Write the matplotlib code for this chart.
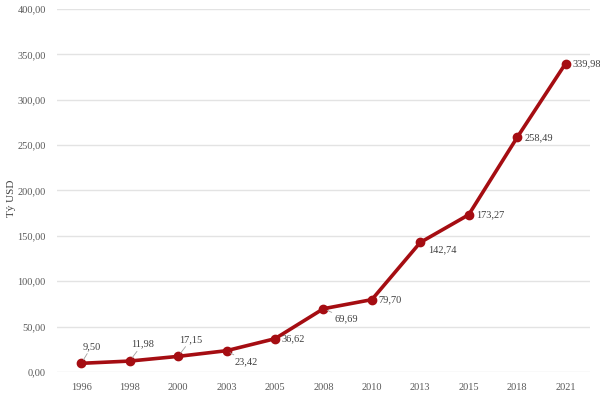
import matplotlib.pyplot as plt
from matplotlib.ticker import FuncFormatter

years = ['1996', '1998', '2000', '2003', '2005', '2008', '2010', '2013', '2015', '2018', '2021']
values = [9.50, 11.98, 17.15, 23.42, 36.62, 69.69, 79.70, 142.74, 173.27, 258.49, 339.98]

# label offsets in points (dx, dy) and whether a leader line is drawn
offsets = [(1, 9), (1, 9), (1, 9), (6, -5), (5, 0), (8, -4), (5, 0), (6, -2), (5, 0), (5, 0), (5, 0)]
leaders = [True, True, True, True, False, True, False, False, False, False, False]

plt.rcParams['font.family'] = ['Liberation Serif', 'DejaVu Serif']

def vn(v, pos=None):
    return f'{v:.2f}'.replace('.', ',')

fig = plt.figure(figsize=(6, 3.94), dpi=100)
ax = fig.add_axes([0.095, 0.056, 0.888, 0.921])

x = list(range(len(years)))
ax.plot(x, values, color='#A50D12', lw=2.6, marker='o', ms=6, zorder=3)

for i, v in enumerate(values):
    dx, dy = offsets[i]
    va = 'bottom' if dy > 2 else ('top' if dy < -1 else 'center')
    arrow = dict(arrowstyle='-', color='#A0A0A0', lw=0.6, shrinkA=0, shrinkB=3) if leaders[i] else None
    ax.annotate(vn(v), (i, v), xytext=(dx, dy), textcoords='offset points',
                ha='left', va=va, fontsize=7.5, color='#404040', arrowprops=arrow)

ax.set_xlim(-0.5, len(years) - 0.5)
ax.set_ylim(0, 400)
ax.set_yticks(range(0, 401, 50))
ax.yaxis.set_major_formatter(FuncFormatter(vn))
ax.set_xticks(x)
ax.set_xticklabels(years)
ax.tick_params(length=0, labelsize=7.5, colors='#595959', pad=8)
ax.grid(axis='y', color='#E3E3E3', lw=1)
ax.set_axisbelow(True)
for s in ax.spines.values():
    s.set_visible(False)
fig.text(11 / 600, 1 - 198 / 394, 'Tỷ USD', rotation=90, ha='center', va='center',
         fontsize=8, color='#404040')

fig.savefig('out.png', dpi=100)
